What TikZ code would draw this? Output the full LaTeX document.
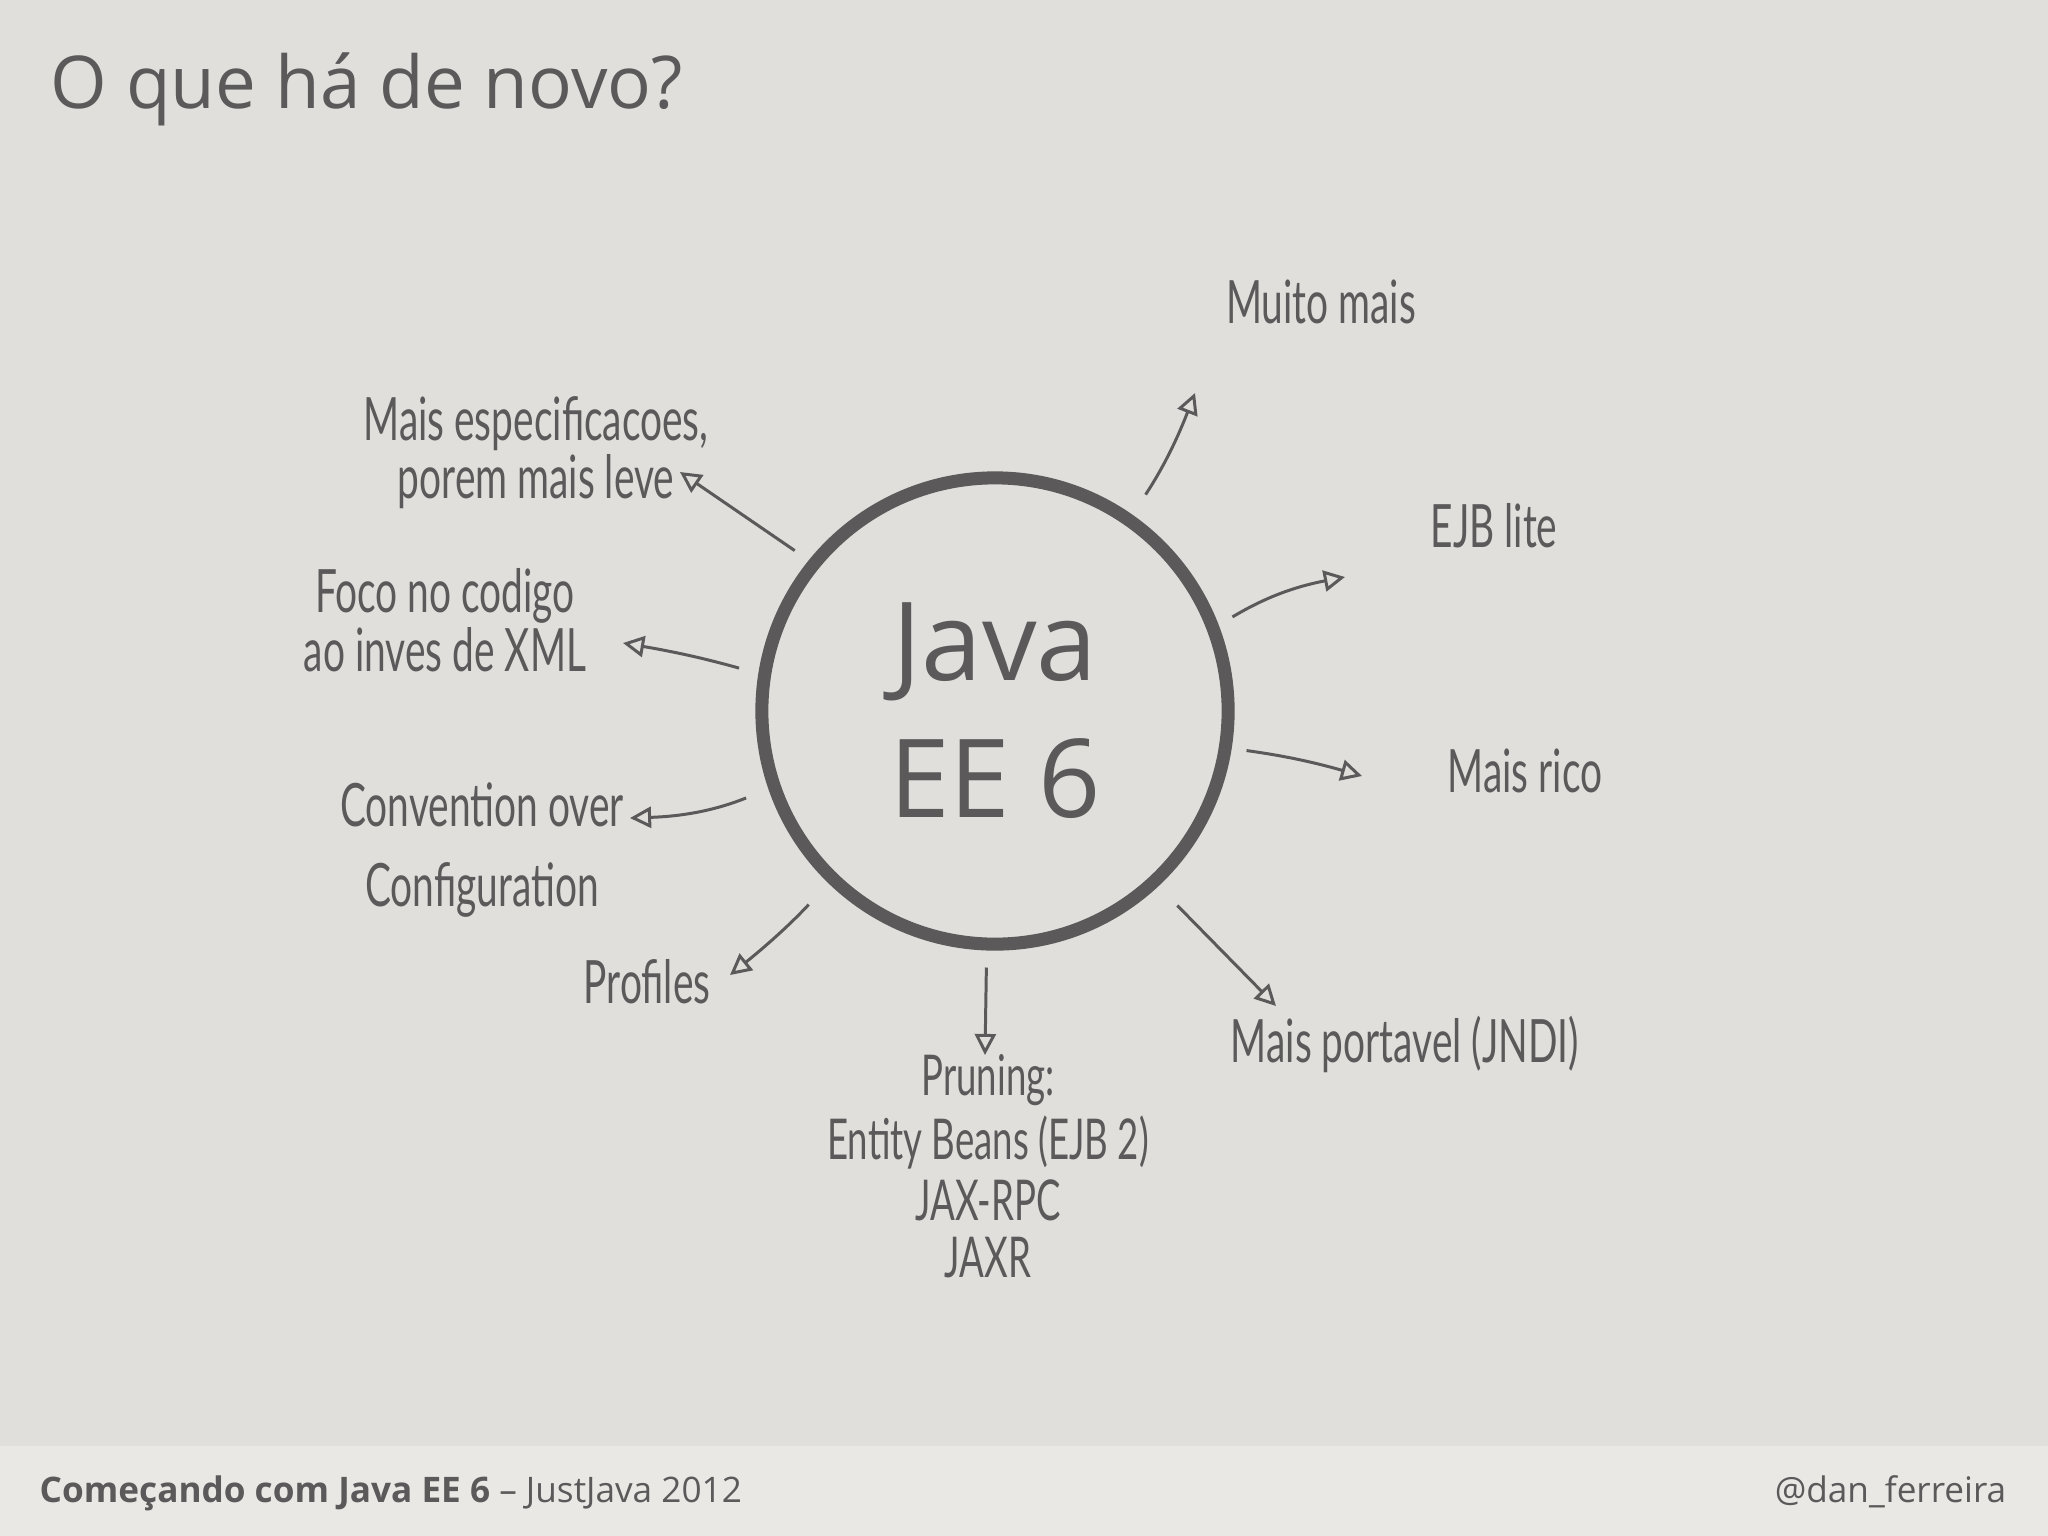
\documentclass[tikz,border=0pt]{standalone}
\usepackage{fontspec}
\setmainfont{Open Sans}
\newfontfamily\handfont[FakeStretch=0.65]{Lato}
\usetikzlibrary{arrows.meta,positioning,calc}
\definecolor{paper}{HTML}{E1DFDC}
\definecolor{band}{HTML}{E9E8E5}
\definecolor{ink}{HTML}{5B5959}

\begin{document}
\begin{tikzpicture}[x=0.01cm,y=-0.01cm]
  \tikzstyle{hand}=[font=\handfont\fontsize{17}{14}\selectfont, text=ink, align=center, inner sep=0pt]
  \tikzstyle{hub}=[circle, draw=ink, line width=3.7pt, minimum size=4.66cm, text=ink, align=center, font=\fontsize{31}{39}\selectfont]
  \tikzstyle{link}=[draw=ink, line width=0.85pt, -{Triangle[open,length=6pt,width=6pt]}]

  % fundo e rodape
  \fill[paper] (0,0) rectangle (2048,1536);
  \fill[band] (0,1446) rectangle (2048,1536);
  \useasboundingbox (0,0) rectangle (2048,1536);

  \node[anchor=base west, inner sep=0pt, text=ink, font=\fontsize{20.7}{24}\selectfont] (title) at (50,108) {O que há de novo?};

  % circulo central
  \node[hub] (java) at (995,711) {Java\\EE 6};

  % itens em volta
  \node[hand, anchor=base] (muito) at (1321,323) {Muito mais};
  \node[hand, anchor=base] (ejb) at (1494,547) {EJB lite};
  \node[hand, anchor=base] (rico) at (1525,792) {Mais rico};
  \node[hand, anchor=base] (portavel) at (1405,1062) {Mais portavel (JNDI)};
  \node[hand, font=\handfont\fontsize{16}{14}\selectfont] (pruning) at (988,1166) {Pruning:\\[2pt]Entity Beans (EJB 2)\\[2pt]JAX-RPC\\[2pt]JAXR};
  \node[hand, anchor=base] (profiles) at (647,1003) {Profiles};
  \node[hand] (conv) at (482,850) {Convention over\\[9pt]Configuration};
  \node[hand] (foco) at (445,620) {Foco no codigo\\ao inves de XML};
  \node[hand] (spec) at (536,453) {Mais especificacoes,\\porem mais leve};

  % pontas das setas
  \coordinate (tMuito) at (1195,393);
  \coordinate (tEjb) at (1345,577);
  \coordinate (tRico) at (1362,776);
  \coordinate (tPort) at (1276,1006);
  \coordinate (tPrun) at (985,1055);
  \coordinate (tProf) at (730,975);
  \coordinate (tConv) at (630,818);
  \coordinate (tFoco) at (623,643);
  \coordinate (tSpec) at (680,472);

  \draw[link, shorten <=0.24cm, bend right=6] (java.55) to (tMuito);
  \draw[link, shorten <=0.16cm, bend left=10] (java.21) to (tEjb);
  \draw[link, shorten <=0.15cm, bend left=4] (java.-9) to (tRico);
  \draw[link, shorten <=0.27cm] (java.-47) to (tPort);
  \draw[link, shorten <=0.17cm] (java.-92) to (tPrun);
  \draw[link, shorten <=0.29cm, bend left=4] (java.-134) to (tProf);
  \draw[link, shorten <=0.24cm, bend left=10] (java.-161) to (tConv);
  \draw[link, shorten <=0.20cm, bend right=3] (java.171) to (tFoco);
  \draw[link, shorten <=0.17cm] (java.141) to (tSpec);

  % rodape
  \node[anchor=base west, inner sep=0pt, text=ink, font=\fontsize{10}{12}\selectfont] (footer) at (39,1502) {\textbf{Começando com Java EE 6} -- JustJava 2012};
  \node[anchor=base east, inner sep=0pt, text=ink, font=\fontsize{10}{12}\selectfont] (handle) at (2007,1502) {@dan\_ferreira};
\end{tikzpicture}
\end{document}
